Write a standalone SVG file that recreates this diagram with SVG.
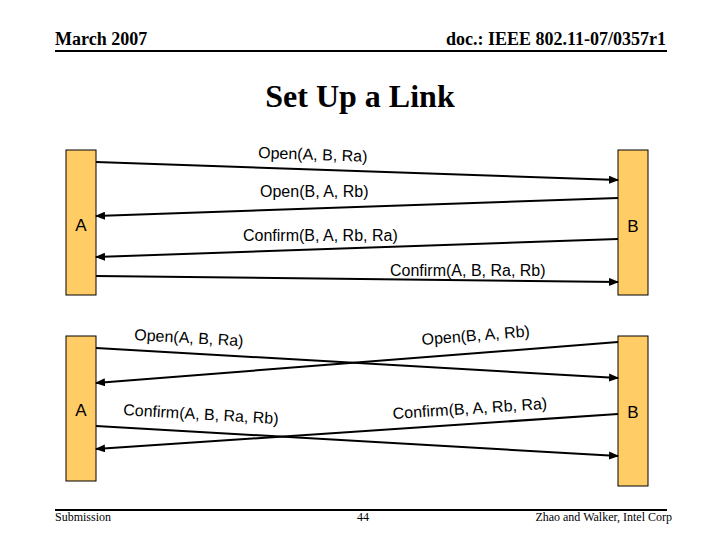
<svg xmlns="http://www.w3.org/2000/svg" width="720" height="540" viewBox="0 0 720 540">
<style>
.hdr{font-family:"Liberation Serif","Times New Roman",serif;font-weight:bold;font-size:18px;fill:#000}
.title{font-family:"Liberation Serif","Times New Roman",serif;font-weight:bold;font-size:32px;fill:#000}
.ftr{font-family:"Liberation Serif","Times New Roman",serif;font-size:12px;fill:#000}
.bar{fill:#FFCC66;stroke:#000;stroke-width:1}
.node{font-family:"Liberation Sans",Arial,sans-serif;font-size:17px;fill:#000}
.lbl{font-family:"Liberation Sans",Arial,sans-serif;font-size:16px;fill:#000}
.msg{stroke:#000;stroke-width:2;fill:none;marker-end:url(#ah)}
.rule{stroke:#000;stroke-width:2}
</style>
<defs>
<marker id="ah" markerWidth="10" markerHeight="8" refX="9" refY="4" orient="auto" markerUnits="userSpaceOnUse">
<path d="M0,0 L10,4 L0,8 Z" fill="#000"/>
</marker>
</defs>
<rect width="720" height="540" fill="#fff"/>
<g id="header">
<text class="hdr" x="55" y="45">March 2007</text>
<text class="hdr" x="666" y="45" text-anchor="end">doc.: IEEE 802.11-07/0357r1</text>
<line class="rule" x1="55" y1="51" x2="667" y2="51"/>
<text class="title" x="360" y="107" text-anchor="middle">Set Up a Link</text>
</g>
<g id="footer">
<line class="rule" x1="55" y1="510" x2="667" y2="510"/>
<text class="ftr" x="55" y="521">Submission</text>
<text class="ftr" x="363" y="521" text-anchor="middle">44</text>
<text class="ftr" x="672" y="521" text-anchor="end">Zhao and Walker, Intel Corp</text>
</g>
<g id="nodeA1"><rect class="bar" x="66" y="150" width="30" height="145"/><text class="node" x="81" y="231" text-anchor="middle">A</text></g>
<g id="nodeB1"><rect class="bar" x="618" y="150" width="30" height="145"/><text class="node" x="633" y="232" text-anchor="middle">B</text></g>
<g id="nodeA2"><rect class="bar" x="66" y="336" width="30" height="145"/><text class="node" x="81" y="416" text-anchor="middle">A</text></g>
<g id="nodeB2"><rect class="bar" x="618" y="336" width="30" height="150"/><text class="node" x="633" y="418" text-anchor="middle">B</text></g>
<g id="connectors">
<line class="msg" x1="96" y1="162" x2="618" y2="180"/>
<line class="msg" x1="618" y1="198" x2="96" y2="216"/>
<line class="msg" x1="618" y1="239" x2="96" y2="257"/>
<line class="msg" x1="96" y1="276" x2="618" y2="282"/>
<line class="msg" x1="96" y1="348" x2="618" y2="378"/>
<line class="msg" x1="618" y1="342" x2="96" y2="383"/>
<line class="msg" x1="96" y1="426" x2="618" y2="456"/>
<line class="msg" x1="618" y1="414" x2="96" y2="449"/>
</g>
<g id="labels">
<text class="lbl" x="258" y="158" transform="rotate(2 258 158)">Open(A, B, Ra)</text>
<text class="lbl" x="260" y="197">Open(B, A, Rb)</text>
<text class="lbl" x="243" y="241">Confirm(B, A, Rb, Ra)</text>
<text class="lbl" x="390" y="276">Confirm(A, B, Ra, Rb)</text>
<text class="lbl" x="134" y="340" transform="rotate(3.3 134 340)">Open(A, B, Ra)</text>
<text class="lbl" x="422" y="345" transform="rotate(-4.5 422 345)">Open(B, A, Rb)</text>
<text class="lbl" x="123" y="415" transform="rotate(3.3 123 415)">Confirm(A, B, Ra, Rb)</text>
<text class="lbl" x="393" y="419" transform="rotate(-3.8 393 419)">Confirm(B, A, Rb, Ra)</text>
</g>
</svg>
